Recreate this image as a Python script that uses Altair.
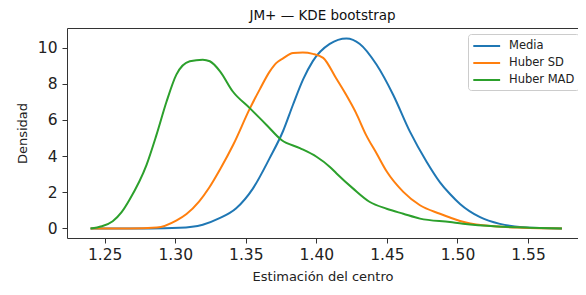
import altair as alt
import pandas as pd

series_names = ["Media", "Huber SD", "Huber MAD"]
colors = ["#1f77b4", "#ff7f0e", "#2ca02c"]

media_x = [1.240, 1.282, 1.303, 1.3195, 1.331, 1.343, 1.355, 1.367, 1.3765, 1.3835,
           1.3907, 1.3975, 1.4095, 1.4213, 1.4308, 1.4426, 1.4544, 1.4663, 1.4781,
           1.4876, 1.4947, 1.5018, 1.516, 1.530, 1.546, 1.574]
media_y = [0.0, 0.0, 0.03, 0.2, 0.55, 1.1, 2.2, 3.9, 5.4, 6.85,
           8.25, 9.25, 10.2, 10.5, 10.2, 9.06, 7.39, 5.35, 3.69,
           2.55, 1.9, 1.35, 0.62, 0.25, 0.07, 0.0]

sd_x = [1.240, 1.268, 1.287, 1.301, 1.308, 1.317, 1.324, 1.332, 1.341, 1.353,
        1.360, 1.367, 1.3717, 1.3764, 1.3835, 1.3904, 1.3975, 1.4048, 1.414,
        1.421, 1.428, 1.435, 1.443, 1.450, 1.4616, 1.4734, 1.4876, 1.4947,
        1.5018, 1.518, 1.546, 1.574]
sd_y = [0.0, 0.0, 0.05, 0.45, 0.8, 1.5, 2.25, 3.3, 4.61, 6.65,
        7.7, 8.68, 9.15, 9.4, 9.7, 9.72, 9.65, 9.43, 8.3,
        7.4, 6.4, 5.2, 4.1, 3.13, 2.02, 1.28, 0.81, 0.6,
        0.41, 0.17, 0.04, 0.0]

mad_x = [1.240, 1.248, 1.2557, 1.262, 1.2677, 1.2796, 1.2867, 1.2938, 1.3008, 1.3103,
         1.3195, 1.3245, 1.3316, 1.3408, 1.3528, 1.3647, 1.3753, 1.3883, 1.4001,
         1.4096, 1.4143, 1.4261, 1.4379, 1.4498, 1.4616, 1.4734, 1.4947, 1.5039,
         1.528, 1.5513, 1.574]
mad_y = [0.0, 0.12, 0.4, 0.9, 1.6, 3.5, 5.17, 7.0, 8.5, 9.24,
         9.33, 9.24, 8.7, 7.57, 6.65, 5.72, 4.89, 4.44, 3.96,
         3.4, 3.04, 2.2, 1.46, 1.09, 0.81, 0.54, 0.35, 0.26,
         0.11, 0.04, 0.0]

x_ticks = [1.25, 1.30, 1.35, 1.40, 1.45, 1.50, 1.55]
y_ticks = [0, 2, 4, 6, 8, 10]

rows = []
for name, xs, ys in [("Media", media_x, media_y), ("Huber SD", sd_x, sd_y), ("Huber MAD", mad_x, mad_y)]:
    for i, (a, b) in enumerate(zip(xs, ys)):
        rows.append({"serie": name, "x": a, "y": b, "i": i})
df = pd.DataFrame(rows)

font = "DejaVu Sans"

chart = alt.Chart(df).mark_line(strokeWidth=2, interpolate="monotone").encode(
    x=alt.X("x:Q", title="Estimación del centro",
            scale=alt.Scale(domain=[1.2233, 1.5854], nice=False, zero=False),
            axis=alt.Axis(values=x_ticks, format=".2f", labelPadding=4, titlePadding=8)),
    y=alt.Y("y:Q", title="Densidad",
            scale=alt.Scale(domain=[-0.53, 11.08], nice=False, zero=False),
            axis=alt.Axis(values=y_ticks, labelPadding=5, titlePadding=8)),
    color=alt.Color("serie:N", sort=series_names,
                    scale=alt.Scale(domain=series_names, range=colors),
                    legend=alt.Legend(title=None, orient="none", legendX=401, legendY=6,
                                      symbolType="M-1,0H3", symbolSize=180,
                                      symbolStrokeWidth=2, labelFontSize=11.5,
                                      labelFont=font, labelColor="#222",
                                      labelOffset=21, rowPadding=3,
                                      padding=4, strokeColor="#cccccc",
                                      fillColor="white", cornerRadius=3)),
    order="i:Q",
).properties(
    width=511, height=210,
    title=alt.TitleParams("JM+ — KDE bootstrap", fontSize=13.5, font=font,
                          fontWeight="normal", color="#111", offset=6),
    autosize=alt.AutoSizeParams(type="none"),
    padding={"left": 59, "top": 20, "right": 0, "bottom": 49},
).configure_view(
    stroke="#333", strokeWidth=1
).configure_axis(
    grid=False, domain=False, tickColor="#333", tickSize=5, tickWidth=1,
    labelFont=font, labelFontSize=15.5, labelColor="#222",
    titleFont=font, titleFontSize=13, titleFontWeight="normal", titleColor="#222",
)

chart.save("out.html", embed_options={"renderer": "svg", "actions": False})
